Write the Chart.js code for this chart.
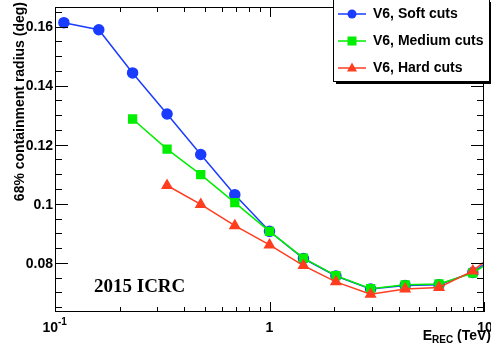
<!DOCTYPE html>
<html>
<head>
<meta charset="utf-8">
<script src="https://cdn.jsdelivr.net/npm/chart.js@4.4.1/dist/chart.umd.min.js"></script>
<style>
  html, body { margin: 0; padding: 0; background: #fff; }
  #wrap { width: 491px; height: 351px; position: relative; }
</style>
</head>
<body>
<div id="wrap"><canvas id="psf"></canvas></div>
<script>
// energy bins (TeV) - last one lies past the axis and just gets clipped
const energies = [0.11, 0.16, 0.23, 0.333, 0.478, 0.689, 1.0, 1.44, 2.04, 2.96, 4.29, 6.17, 8.87, 12.8];

const softCuts   = [0.1613, 0.1589, 0.1443, 0.1304, 0.1167, 0.1031, 0.0907, 0.0815, 0.0756, 0.0712, 0.0724, 0.0726, 0.0768, 0.0850];
const mediumCuts = [null, null, 0.1287, 0.1185, 0.1099, 0.1004, 0.0907, 0.0816, 0.0757, 0.0713, 0.0726, 0.0729, 0.0766, 0.0840];
const hardCuts   = [null, null, null, 0.1062, 0.0998, 0.0926, 0.0861, 0.0791, 0.0736, 0.0694, 0.0712, 0.0717, 0.0773, 0.0866];

const yTicks = [0.08, 0.1, 0.12, 0.14, 0.16];
const yTickLabels = ['0.08', '0.1', '0.12', '0.14', '0.16'];
const xTicks = [0.1, 1, 10];

const BLUE = '#1a3cff', GREEN = '#00ee00', RED = '#ff3d1f';

function pts(vals) {
    return energies.map((e, i) => ({ x: e, y: vals[i] })).filter(p => p.y !== null);
}

// ROOT-style frame, ticks and labels, drawn from the chart's own scales
const frame = {
    id: 'frame',
    afterDraw(chart) {
        const ctx = chart.ctx;
        const a = chart.chartArea;
        const xs = chart.scales.x, ys = chart.scales.y;
        ctx.save();
        ctx.strokeStyle = '#000';
        ctx.lineWidth = 1;
        ctx.strokeRect(a.left + 0.5, a.top + 0.5, a.right - a.left - 1, a.bottom - a.top - 1);

        ctx.beginPath();
        // y ticks: major every 0.02, minor every 0.005
        for (let v = 0.065; v <= 0.166; v += 0.005) {
            const y = Math.round(ys.getPixelForValue(v)) + 0.5;
            const major = Math.abs(v / 0.02 - Math.round(v / 0.02)) < 1e-6;
            const len = major ? 13 : 7;
            ctx.moveTo(a.left, y); ctx.lineTo(a.left + len, y);
            ctx.moveTo(a.right, y); ctx.lineTo(a.right - len, y);
        }
        // x ticks: decades major, 2..9 minor
        for (let d = 0.1; d <= 10; d *= 10) {
            for (let m = 1; m <= 9; m++) {
                const v = d * m;
                if (v > 10.001) break;
                const x = Math.round(xs.getPixelForValue(v)) + 0.5;
                const len = m === 1 ? 10 : 5;
                ctx.moveTo(x, a.bottom); ctx.lineTo(x, a.bottom - len);
                ctx.moveTo(x, a.top); ctx.lineTo(x, a.top + len);
            }
        }
        ctx.stroke();

        ctx.fillStyle = '#000';
        ctx.font = 'bold 14px "Liberation Sans", Arial, sans-serif';
        ctx.textAlign = 'right';
        ctx.textBaseline = 'middle';
        yTicks.forEach((v, i) => {
            ctx.fillText(yTickLabels[i], a.left - 2, ys.getPixelForValue(v) + 1);
        });

        // x labels
        ctx.textBaseline = 'middle';
        const ly = a.bottom + 16;
        let x0 = xs.getPixelForValue(xTicks[0]);
        ctx.textAlign = 'right';
        ctx.fillText('10', x0 + 3, ly);
        ctx.font = 'bold 10px "Liberation Sans", Arial, sans-serif';
        ctx.textAlign = 'left';
        ctx.fillText('-1', x0 + 3, ly - 6);
        ctx.font = 'bold 14px "Liberation Sans", Arial, sans-serif';
        ctx.textAlign = 'center';
        ctx.fillText('1', xs.getPixelForValue(xTicks[1]), ly);
        ctx.fillText('10', xs.getPixelForValue(xTicks[2]) + 1, ly);

        // x title
        ctx.textAlign = 'right';
        ctx.fillText('(TeV)', 491, a.bottom + 24);
        const tw = ctx.measureText('(TeV) ').width;
        ctx.font = 'bold 10px "Liberation Sans", Arial, sans-serif';
        const rw = ctx.measureText('REC').width;
        ctx.fillText('REC', 491 - tw, a.bottom + 28);
        ctx.font = 'bold 14px "Liberation Sans", Arial, sans-serif';
        ctx.fillText('E', 491 - tw - rw, a.bottom + 24);

        // y title
        ctx.save();
        ctx.translate(20, 2);
        ctx.rotate(-Math.PI / 2);
        ctx.textAlign = 'right';
        ctx.textBaseline = 'middle';
        ctx.fillText('68% containment radius (deg)', 0, 0);
        ctx.restore();

        // conference tag
        ctx.font = 'bold 19px "Liberation Serif", "Times New Roman", serif';
        ctx.textAlign = 'left';
        ctx.fillText('2015 ICRC', 94, 287);

        // legend box with shadow
        const bx = 333, by = -1, bw = 156, bh = 82;
        ctx.fillStyle = '#000';
        ctx.fillRect(bx + 3, by + 3, bw, bh);
        ctx.fillStyle = '#fff';
        ctx.fillRect(bx, by, bw, bh);
        ctx.strokeStyle = '#000';
        ctx.strokeRect(bx + 0.5, by + 0.5, bw, bh);
        const entries = [
            ['V6, Soft cuts', BLUE, 'circle'],
            ['V6, Medium cuts', GREEN, 'rect'],
            ['V6, Hard cuts', RED, 'triangle']
        ];
        ctx.font = 'bold 14px "Liberation Sans", Arial, sans-serif';
        ctx.textBaseline = 'middle';
        entries.forEach((e, i) => {
            const yy = 14 + i * 27;
            ctx.strokeStyle = e[1];
            ctx.lineWidth = 1.5;
            ctx.beginPath(); ctx.moveTo(338, yy); ctx.lineTo(366, yy); ctx.stroke();
            ctx.fillStyle = e[1];
            ctx.beginPath();
            if (e[2] === 'circle') { ctx.arc(352, yy, 4.5, 0, Math.PI * 2); }
            else if (e[2] === 'rect') { ctx.rect(347.5, yy - 4.5, 9, 9); }
            else { ctx.moveTo(352, yy - 5.5); ctx.lineTo(357, yy + 3.5); ctx.lineTo(347, yy + 3.5); ctx.closePath(); }
            ctx.fill();
            ctx.fillStyle = '#000';
            ctx.textAlign = 'left';
            ctx.fillText(e[0], 373, yy);
        });
        ctx.restore();
    }
};

new Chart(document.getElementById('psf'), {
    type: 'line',
    data: {
        datasets: [
            { label: 'V6, Soft cuts', data: pts(softCuts), order: 3, borderColor: BLUE, backgroundColor: BLUE, borderWidth: 1.5, pointStyle: 'circle', pointRadius: 5 },
            { label: 'V6, Medium cuts', data: pts(mediumCuts), order: 2, borderColor: GREEN, backgroundColor: GREEN, borderWidth: 1.5, pointStyle: 'rect', pointRadius: 5.5 },
            { label: 'V6, Hard cuts', data: pts(hardCuts), order: 1, borderColor: RED, backgroundColor: RED, borderWidth: 1.5, pointStyle: 'triangle', pointRadius: 5.5 }
        ]
    },
    options: {
        responsive: true,
        maintainAspectRatio: false,
        animation: false,
        layout: { padding: { left: 55, right: 3, top: 0, bottom: 39 } },
        scales: {
            x: { type: 'logarithmic', min: 0.1, max: 10, display: false },
            y: { type: 'linear', min: 0.0634, max: 0.1666, display: false }
        },
        plugins: { legend: { display: false }, tooltip: { enabled: false } },
        elements: { point: { borderWidth: 0 }, line: { tension: 0 } }
    },
    plugins: [frame]
});
</script>
</body>
</html>
